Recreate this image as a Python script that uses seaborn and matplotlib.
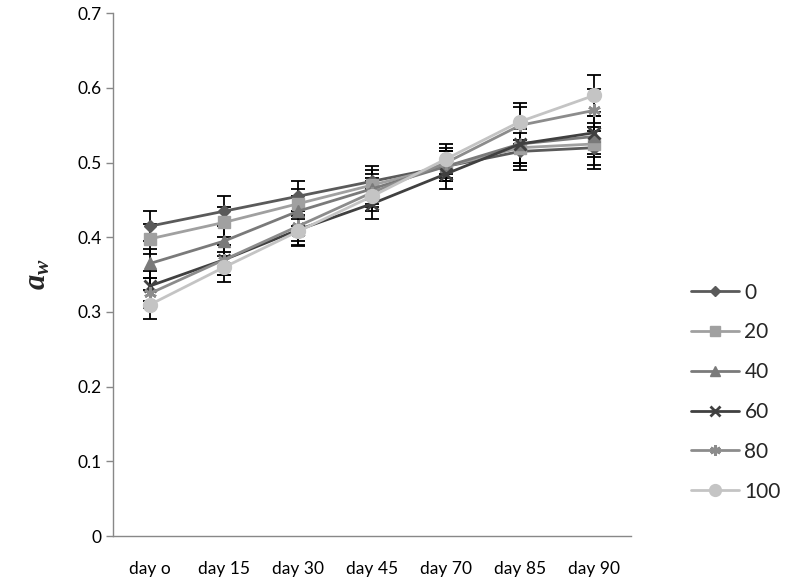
import matplotlib
matplotlib.use("Agg")
import matplotlib.pyplot as plt
import seaborn as sns
import pandas as pd

days = ["day o", "day 15", "day 30", "day 45", "day 70", "day 85", "day 90"]
series_names = ["0", "20", "40", "60", "80", "100"]
v0 = [0.415, 0.435, 0.455, 0.475, 0.495, 0.515, 0.520]
v20 = [0.398, 0.420, 0.445, 0.470, 0.495, 0.520, 0.525]
v40 = [0.365, 0.395, 0.435, 0.465, 0.495, 0.525, 0.535]
v60 = [0.335, 0.370, 0.410, 0.445, 0.485, 0.525, 0.540]
v80 = [0.325, 0.370, 0.415, 0.460, 0.500, 0.550, 0.570]
v100 = [0.310, 0.360, 0.408, 0.455, 0.505, 0.555, 0.590]
err = [0.02, 0.02, 0.02, 0.02, 0.02, 0.025, 0.028]
values = [v0, v20, v40, v60, v80, v100]

colors = ["#5a5a5a", "#a0a0a0", "#7a7a7a", "#404040", "#8c8c8c", "#c4c4c4"]
markers = ["D", "s", "^", "x", (6, 2, 0), "o"]
msizes = [6, 8, 8, 8, 9, 10]

rows = []
for name, vals in zip(series_names, values):
    for d, v in zip(days, vals):
        rows.append({"day": d, "aw": v, "conc": name})
df = pd.DataFrame(rows)

sns.set_theme(style="white")
plt.rcParams["font.family"] = ["Lato", "DejaVu Sans"]
plt.rcParams["mathtext.fontset"] = "custom"
plt.rcParams["mathtext.bfit"] = "Liberation Serif:italic:bold"
plt.rcParams["mathtext.it"] = "Liberation Serif:italic:bold"
plt.rcParams["mathtext.rm"] = "Liberation Serif:bold"

fig = plt.figure(figsize=(7.86, 5.77), dpi=100)
ax = fig.add_axes([0.144, 0.071, 0.659, 0.906])

for name, vals in zip(series_names, values):
    ax.errorbar(days, vals, yerr=err, fmt="none", ecolor="black",
                elinewidth=1.3, capsize=5, capthick=1.3, zorder=1)

for i, name in enumerate(series_names):
    sub = df[df["conc"] == name]
    mew = 2 if markers[i] in ("x", (6, 2, 0)) else 1
    sns.lineplot(data=sub, x="day", y="aw", ax=ax, color=colors[i],
                 marker=markers[i], markersize=msizes[i], markeredgecolor=colors[i],
                 markeredgewidth=mew, linewidth=2, label=name, zorder=3 + i, sort=False)

ax.set_ylim(0, 0.7)
ax.set_xlim(-0.5, 6.5)
ax.set_yticks([0, 0.1, 0.2, 0.3, 0.4, 0.5, 0.6, 0.7])
ax.set_yticklabels(["0", "0.1", "0.2", "0.3", "0.4", "0.5", "0.6", "0.7"])
ax.tick_params(axis="both", labelsize=12.5, colors="black")
ax.tick_params(axis="y", length=5, color="#888888", width=1, direction="out", left=True)
ax.tick_params(axis="x", length=0, pad=18)
ax.set_xlabel("")
ax.set_ylabel(r"$a_w$", fontsize=22, labelpad=18)

for s in ["top", "right"]:
    ax.spines[s].set_visible(False)
for s in ["left", "bottom"]:
    ax.spines[s].set_color("#888888")
    ax.spines[s].set_linewidth(1)

leg = ax.legend(loc="lower left", bbox_to_anchor=(1.10, 0.05), frameon=False,
                fontsize=15, labelspacing=0.95, handlelength=2.3, handletextpad=0.25,
                borderaxespad=0, markerscale=0.85)

fig.savefig("out.png", dpi=100)
